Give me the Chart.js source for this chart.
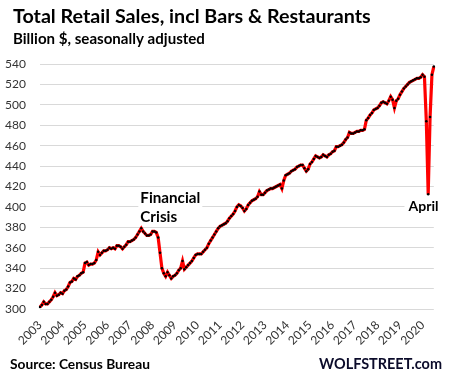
<!DOCTYPE html>
<html>
<head>
<meta charset="utf-8">
<script src="https://cdn.jsdelivr.net/npm/chart.js@4.4.1/dist/chart.umd.min.js"></script>
<style>
  html, body { margin: 0; padding: 0; background: #ffffff; }
  #wrap { position: relative; width: 453px; height: 380px; }
  canvas { display: block; }
</style>
</head>
<body>
<div id="wrap"><canvas id="c" width="453" height="380"></canvas></div>
<script>
// ---- Data (billion $, seasonally adjusted, monthly) ----
const years = [2003, 2004, 2005, 2006, 2007, 2008, 2009, 2010, 2011, 2012,
               2013, 2014, 2015, 2016, 2017, 2018, 2019, 2020];
const monthNames = ['Jan','Feb','Mar','Apr','May','Jun','Jul','Aug','Sep','Oct','Nov','Dec'];

const sales2003 = [302, 304, 307, 305, 305, 307, 309, 312, 316, 313, 314, 316];
const sales2004 = [315, 318, 319, 322, 326, 327, 330, 329, 332, 333, 335, 336];
const sales2005 = [345, 346, 343, 344, 344, 345, 348, 356, 353, 355, 357, 357];
const sales2006 = [358, 360, 359, 360, 359, 362, 362, 361, 359, 361, 363, 366];
const sales2007 = [366, 367, 368, 370, 373, 376, 379, 376, 374, 372, 372, 373];
const sales2008 = [376, 376, 375, 370, 355, 340, 335, 332, 336, 333, 330, 332];
const sales2009 = [333, 335, 338, 340, 347, 339, 341, 343, 345, 347, 350, 353];
const sales2010 = [354, 354, 354, 356, 358, 360, 364, 367, 370, 373, 376, 379];
const sales2011 = [381, 382, 383, 384, 386, 389, 391, 393, 396, 400, 402, 401];
const sales2012 = [399, 396, 398, 402, 404, 406, 407, 408, 410, 415, 412, 412];
const sales2013 = [414, 416, 417, 418, 418, 419, 420, 421, 422, 418, 426, 431];
const sales2014 = [432, 433, 435, 436, 437, 439, 440, 441, 441, 438, 435, 437];
const sales2015 = [442, 444, 447, 450, 449, 448, 449, 451, 450, 449, 451, 452];
const sales2016 = [454, 455, 459, 459, 460, 461, 463, 466, 468, 473, 472, 472];
const sales2017 = [473, 474, 474, 475, 475, 476, 485, 487, 490, 492, 495, 496];
const sales2018 = [497, 499, 502, 503, 502, 501, 504, 508, 505, 497, 504, 506];
const sales2019 = [510, 513, 516, 518, 520, 522, 523, 524, 525, 526, 526, 527];
const sales2020 = [529.5, 527.5, 484, 412.5, 488, 529.5, 537.5];

const yTicks = [300, 320, 340, 360, 380, 400, 420, 440, 460, 480, 500, 520, 540];

// ---- Build table ----
const salesByYear = [sales2003, sales2004, sales2005, sales2006, sales2007, sales2008,
  sales2009, sales2010, sales2011, sales2012, sales2013, sales2014, sales2015,
  sales2016, sales2017, sales2018, sales2019, sales2020];
const categories = [];
const values = [];
years.forEach((yr, i) => {
  salesByYear[i].forEach((v, m) => {
    categories.push(monthNames[m] + ' ' + yr);
    values.push(v);
  });
});

const FONT = 'Lato, "Open Sans", "DejaVu Sans", sans-serif';

function fitText(ctx, text, x, y, w, weight, color) {
  ctx.font = weight + ' 20px ' + FONT;
  const mw = ctx.measureText(text).width;
  const size = 20 * w / mw;
  ctx.font = weight + ' ' + size.toFixed(2) + 'px ' + FONT;
  ctx.fillStyle = color;
  ctx.textAlign = 'left';
  ctx.textBaseline = 'alphabetic';
  ctx.fillText(text, x, y);
  return size;
}

const textPlugin = {
  id: 'texts',
  beforeDatasetsDraw(chart) {
    const ctx = chart.ctx;
    const xs = chart.scales.x, ys = chart.scales.y;
    ctx.save();
    // Financial Crisis annotation
    const fx = xs.getPixelForValue(53.5);
    const fy1 = ys.getPixelForValue(404);
    const fy2 = ys.getPixelForValue(385.5);
    ctx.fillStyle = '#ffffff';
    ctx.fillRect(fx - 2, fy1 - 15, 64, fy2 - fy1 + 19);
    const fs = fitText(ctx, 'Financial', fx, fy1, 60, 'bold', '#000000');
    ctx.font = 'bold ' + fs.toFixed(2) + 'px ' + FONT;
    ctx.fillText('Crisis', fx, fy2);
    // April annotation
    const ax = xs.getPixelForValue(196.5);
    const ay = ys.getPixelForValue(396);
    ctx.fillStyle = '#ffffff';
    ctx.fillRect(ax - 4, ay - 13, 40, 17);
    fitText(ctx, 'April', ax, ay, 30, 'bold', '#000000');
    ctx.restore();
  },
  afterDraw(chart) {
    const ctx = chart.ctx;
    ctx.save();
    fitText(ctx, 'Total Retail Sales, incl Bars & Restaurants', 13, 22.7, 358, 'bold', '#000000');
    fitText(ctx, 'Billion $, seasonally adjusted', 13, 44, 192, 'bold', '#000000');
    fitText(ctx, 'Source: Census Bureau', 10, 369, 140, 'bold', '#000000');
    fitText(ctx, 'WOLFSTREET.com', 319, 369, 123, 'bold', '#0b0b2a');
    ctx.restore();
  }
};

new Chart(document.getElementById('c'), {
  type: 'line',
  data: {
    labels: categories,
    datasets: [{
      data: values,
      borderColor: '#ff0000',
      borderWidth: 3.2,
      pointRadius: 1.25,
      pointBackgroundColor: '#000000',
      pointBorderWidth: 0,
      pointHoverRadius: 0,
      tension: 0,
      fill: false
    }]
  },
  options: {
    responsive: false,
    devicePixelRatio: 1,
    animation: false,
    events: [],
    layout: { padding: { top: 64, right: 8, bottom: 0, left: 0 } },
    plugins: { legend: { display: false }, title: { display: false }, tooltip: { enabled: false } },
    scales: {
      x: {
        type: 'category',
        offset: false,
        grid: { display: false, drawTicks: false },
        border: { display: false },
        afterFit(scale) { scale.height = 71; },
        ticks: {
          autoSkip: false,
          minRotation: 45,
          maxRotation: 45,
          padding: 9,
          color: '#333333',
          font: { family: FONT, size: 12 },
          callback(val, idx) {
            const lab = categories[idx];
            return lab.startsWith('Jan') ? lab.slice(4) : '';
          }
        }
      },
      y: {
        min: 300,
        max: 540,
        afterFit(scale) { scale.width = 40; },
        afterBuildTicks(scale) { scale.ticks = yTicks.map(v => ({ value: v })); },
        grid: { color: '#d9d9d9', lineWidth: 1, drawTicks: false },
        border: { display: false },
        ticks: {
          padding: 14,
          color: '#333333',
          font: { family: FONT, size: 12 }
        }
      }
    }
  },
  plugins: [textPlugin]
});
</script>
</body>
</html>
